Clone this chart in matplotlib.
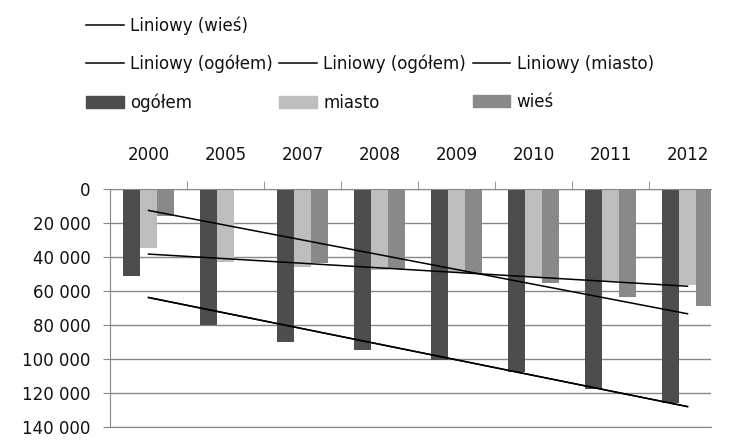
import numpy as np
import matplotlib
matplotlib.use("Agg")
import matplotlib.pyplot as plt
from matplotlib.lines import Line2D
from matplotlib.patches import Patch

# data
years = ["2000", "2005", "2007", "2008", "2009", "2010", "2011", "2012"]
ogolem = [51200, 80000, 89800, 94700, 100400, 107900, 117400, 125900]
miasto = [34600, 42900, 45900, 47400, 48900, 51800, 54200, 56200]
wies = [15700, 0, 43500, 47300, 49400, 55400, 63700, 69000]
y_ticks = [0, 20000, 40000, 60000, 80000, 100000, 120000, 140000]
y_labels = ["0", "20 000", "40 000", "60 000", "80 000", "100 000", "120 000", "140 000"]

c_og, c_mi, c_wi = "#4d4d4d", "#bdbdbd", "#898989"
grid_c = "#888888"

plt.rcParams['font.family'] = ['DejaVu Sans']
plt.rcParams['font.size'] = 12

fig = plt.figure(figsize=(7.49, 4.48), dpi=100)
ax = fig.add_axes([110 / 749, 1 - 427 / 448, (711 - 110) / 749, (427 - 189) / 448])

x = np.arange(len(years))
w = 0.22
ax.bar(x - w, ogolem, w, color=c_og, zorder=2)
ax.bar(x, miasto, w, color=c_mi, zorder=2)
ax.bar(x + w, wies, w, color=c_wi, zorder=2)

# linear trendlines, as in the spreadsheet
def trend(vals):
    k, b = np.polyfit(x, vals, 1)
    return k * x + b

ax.plot(x, trend(ogolem), color="black", lw=1.1, zorder=3)
ax.plot(x, trend(ogolem), color="black", lw=1.1, zorder=3)
ax.plot(x, trend(miasto), color="black", lw=1.1, zorder=3)
ax.plot(x, trend(wies), color="black", lw=1.1, zorder=3)

ax.set_xlim(-0.5, 7.305)
ax.set_ylim(140000, 0)
ax.set_yticks(y_ticks)
ax.set_yticklabels(y_labels)
ax.yaxis.grid(True, color=grid_c, lw=1)
ax.set_axisbelow(True)

ax.xaxis.set_ticks_position('top')
ax.set_xticks(x)
ax.set_xticklabels(years)
ax.set_xticks(np.arange(0.5, 7, 1), minor=True)
ax.tick_params(axis='x', which='major', length=0, pad=18, labelcolor="#111111")
ax.tick_params(axis='x', which='minor', length=6, color=grid_c, top=True)
ax.tick_params(axis='y', length=5, color=grid_c, pad=9, labelcolor="#111111")

ax.spines["right"].set_visible(False)
for s in ["left", "top", "bottom"]:
    ax.spines[s].set_color(grid_c)

line = lambda: Line2D([], [], color="black", lw=1.1)
blank = Line2D([], [], alpha=0)
handles = [line(), line(), Patch(color=c_og),
           blank, line(), Patch(color=c_mi),
           blank, line(), Patch(color=c_wi)]
labels = ["Liniowy (wieś)", "Liniowy (ogółem)", "ogółem",
          "", "Liniowy (ogółem)", "miasto",
          "", "Liniowy (miasto)", "wieś"]
fig.legend(handles, labels, ncol=3, loc="upper left", bbox_to_anchor=(86 / 749, 1 - 16 / 448),
           frameon=False, borderpad=0, borderaxespad=0, handlelength=2.25, handletextpad=0.4,
           columnspacing=0.38, labelspacing=1.22, fontsize=12, labelcolor="#111111")

fig.savefig("out.png", dpi=100)
